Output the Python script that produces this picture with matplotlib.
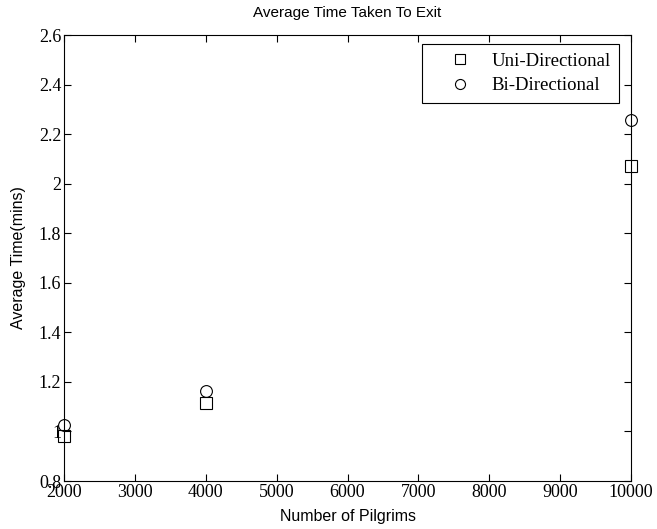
import matplotlib
matplotlib.use("Agg")
import matplotlib.pyplot as plt

pilgrims = [2000, 4000, 10000]
uni_time = [0.982, 1.115, 2.073]
bi_time = [1.024, 1.165, 2.257]

fig = plt.figure(figsize=(6.57, 5.29), dpi=100)
ax = fig.add_axes([64/657, 1 - 481/529, 567/657, 446/529])

ax.plot(pilgrims, uni_time, linestyle='none', marker='s', markersize=8.5,
        markerfacecolor='none', markeredgecolor='black', markeredgewidth=0.8,
        label='Uni-Directional', clip_on=False)
ax.plot(pilgrims, bi_time, linestyle='none', marker='o', markersize=8.5,
        markerfacecolor='none', markeredgecolor='black', markeredgewidth=0.8,
        label='Bi-Directional', clip_on=False)

ax.set_xlim(2000, 10000)
ax.set_ylim(0.8, 2.6)
ax.set_xticks(range(2000, 10001, 1000))
ax.set_yticks([0.8, 1, 1.2, 1.4, 1.6, 1.8, 2, 2.2, 2.4, 2.6])
ax.set_yticklabels(['0.8', '1', '1.2', '1.4', '1.6', '1.8', '2', '2.2', '2.4', '2.6'])
ax.tick_params(direction='in', top=True, right=True, length=5, width=0.8,
               labelsize=13, pad=2)
for lab in ax.get_xticklabels() + ax.get_yticklabels():
    lab.set_fontfamily('Liberation Serif')
for s in ax.spines.values():
    s.set_linewidth(0.8)

ax.set_xlabel('Number of Pilgrims', fontfamily='Liberation Sans', fontsize=11.5, labelpad=6)
ax.set_ylabel('Average Time(mins)', fontfamily='Liberation Sans', fontsize=11.5, labelpad=9)
ax.set_title('Average Time Taken To Exit', fontfamily='Liberation Sans', fontsize=11, pad=13)

leg = ax.legend(loc='upper right', bbox_to_anchor=(619/567 - 64/567, 1 - 9/446),
                fancybox=False, edgecolor='black', framealpha=1, borderaxespad=0,
                prop={'family': 'Liberation Serif', 'size': 13.5}, numpoints=1,
                handlelength=3.15, handletextpad=0.1, labelspacing=0.4,
                borderpad=0.45, markerscale=0.85)
leg.get_frame().set_linewidth(0.8)

fig.savefig('out.png', dpi=100)
